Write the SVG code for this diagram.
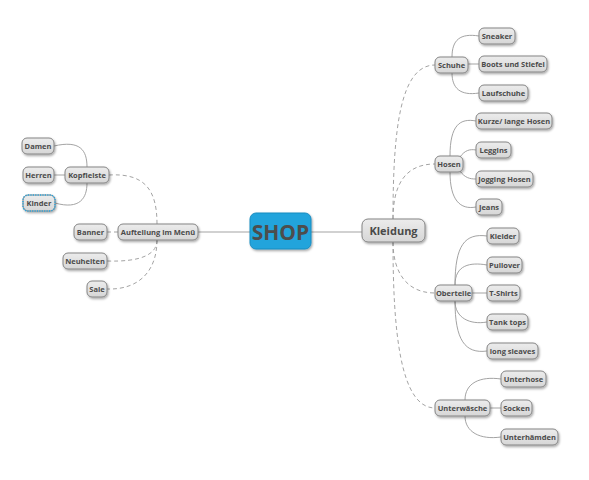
<svg xmlns="http://www.w3.org/2000/svg" width="589" height="480" viewBox="0 0 589 480">
<defs>
<linearGradient id="g" x1="0" y1="0" x2="0" y2="1"><stop offset="0" stop-color="#ececec"/><stop offset="1" stop-color="#d6d6d6"/></linearGradient>
<filter id="sh" x="-20%" y="-30%" width="150%" height="180%"><feDropShadow dx="1" dy="1.5" stdDeviation="0.8" flood-color="#000" flood-opacity="0.35"/></filter>
</defs>
<style>
.n rect{fill:url(#g);stroke:#858585;stroke-width:1;filter:url(#sh)}
.n text{font-family:"Open Sans","Noto Sans",sans-serif;font-weight:bold;font-size:7.5px;fill:#4a4a4a;text-anchor:middle;dominant-baseline:central}
.c path{fill:none;stroke:#999;stroke-width:0.9}
.c .d{stroke-dasharray:4 3}
</style>
<rect width="589" height="480" fill="#fff"/>
<g class="c" id="connectors">
<path d="M198,232 H250"/>
<path d="M311,232 H362"/>
<path class="d" d="M107,232 H118"/>
<path class="d" d="M157,224 C157,190 145,173 109,175"/>
<path class="d" d="M157,240 C157,255 140,262 107,261"/>
<path class="d" d="M157,240 C157,270 140,290 107,289"/>
<path d="M54,146 C80,140 87,150 87,167"/>
<path d="M54,175 H65"/>
<path d="M55,203 C80,210 87,198 87,183"/>
<path class="d" d="M393,219 C393,130 400,65 435,65"/>
<path class="d" d="M393,219 C393,185 405,164 435,164"/>
<path class="d" d="M393,242 C393,270 405,293 435,293"/>
<path class="d" d="M393,242 C393,330 400,408 435,408"/>
<path d="M452,57 C452,40 460,33 479,36"/>
<path d="M468,64 H479"/>
<path d="M452,73 C452,88 460,96 479,93"/>
<path d="M450,156 C450,125 460,118 476,121"/>
<path d="M460,157 C465,150 470,149 476,150"/>
<path d="M460,171 C465,178 470,179 476,179"/>
<path d="M450,172 C450,200 460,210 476,207"/>
<path d="M455,285 C455,245 465,233 487,236"/>
<path d="M455,285 C455,265 470,262 487,265"/>
<path d="M472,293 H487"/>
<path d="M455,301 C455,318 470,325 487,322"/>
<path d="M455,301 C455,340 465,354 487,351"/>
<path d="M465,400 C465,383 480,376 501,379"/>
<path d="M490,408 H501"/>
<path d="M465,416 C465,432 480,440 501,437"/>
</g>
<g class="n" id="n-damen"><rect x="22" y="138" width="32" height="16" rx="5"/><text x="38" y="146">Damen</text></g>
<g class="n" id="n-herren"><rect x="23" y="167" width="31" height="16" rx="5"/><text x="38.5" y="175">Herren</text></g>
<g class="n" id="n-kinder"><rect x="23" y="195" width="32" height="16" rx="5"/><rect x="23" y="195" width="32" height="16" rx="5" style="fill:none;filter:none;stroke:#2aa5dd;stroke-width:1.5;stroke-dasharray:1.2 1.2"/><text x="39" y="203">Kinder</text></g>
<g class="n" id="n-kopfleiste"><rect x="65" y="167" width="44" height="16" rx="5"/><text x="87" y="175">Kopfleiste</text></g>
<g class="n" id="n-banner"><rect x="74" y="224" width="33" height="16" rx="5"/><text x="90.5" y="232">Banner</text></g>
<g class="n" id="n-auftellung"><rect x="118" y="224" width="80" height="16" rx="5"/><text x="158" y="232">Auftellung im Menü</text></g>
<g class="n" id="n-neuheiten"><rect x="63" y="253" width="44" height="16" rx="5"/><text x="85" y="261">Neuheiten</text></g>
<g class="n" id="n-sale"><rect x="87" y="281" width="20" height="16" rx="5"/><text x="97" y="289">Sale</text></g>
<g class="n" id="n-shop"><rect x="250" y="213" width="61" height="36" rx="6" style="fill:#22a4dc;stroke:#1a8cc0"/><text x="280.5" y="232" style="font-size:21px;fill:#4d4d4d">SHOP</text></g>
<g class="n" id="n-kleidung"><rect x="362" y="219" width="63" height="23" rx="6"/><text x="393.5" y="230.5" style="font-size:11px">Kleidung</text></g>
<g class="n" id="n-schuhe"><rect x="435" y="57" width="33" height="16" rx="5"/><text x="451.5" y="65">Schuhe</text></g>
<g class="n" id="n-sneaker"><rect x="479" y="28" width="36" height="16" rx="5"/><text x="497" y="36">Sneaker</text></g>
<g class="n" id="n-boots"><rect x="479" y="56" width="68" height="16" rx="5"/><text x="513" y="64">Boots und Stiefel</text></g>
<g class="n" id="n-laufschuhe"><rect x="479" y="85" width="49" height="16" rx="5"/><text x="503.5" y="93">Laufschuhe</text></g>
<g class="n" id="n-kurze"><rect x="476" y="113" width="76" height="16" rx="5"/><text x="514" y="121">Kurze/ lange Hosen</text></g>
<g class="n" id="n-leggins"><rect x="476" y="142" width="35" height="16" rx="5"/><text x="493.5" y="150">Leggins</text></g>
<g class="n" id="n-hosen"><rect x="435" y="156" width="28" height="16" rx="5"/><text x="449" y="164">Hosen</text></g>
<g class="n" id="n-jogging"><rect x="476" y="171" width="57" height="16" rx="5"/><text x="504.5" y="179">Jogging Hosen</text></g>
<g class="n" id="n-jeans"><rect x="476" y="199" width="26" height="16" rx="5"/><text x="489" y="207">Jeans</text></g>
<g class="n" id="n-kleider"><rect x="487" y="228" width="32" height="16" rx="5"/><text x="503" y="236">Kleider</text></g>
<g class="n" id="n-pullover"><rect x="487" y="257" width="35" height="16" rx="5"/><text x="504.5" y="265">Pullover</text></g>
<g class="n" id="n-obertelle"><rect x="435" y="285" width="37" height="16" rx="5"/><text x="453.5" y="293">Obertelle</text></g>
<g class="n" id="n-tshirts"><rect x="487" y="285" width="33" height="16" rx="5"/><text x="503.5" y="293">T-Shirts</text></g>
<g class="n" id="n-tanktops"><rect x="487" y="314" width="41" height="16" rx="5"/><text x="507.5" y="322">Tank tops</text></g>
<g class="n" id="n-longsleaves"><rect x="487" y="343" width="51" height="16" rx="5"/><text x="512.5" y="351">long sleaves</text></g>
<g class="n" id="n-unterhose"><rect x="501" y="371" width="45" height="16" rx="5"/><text x="523.5" y="379">Unterhose</text></g>
<g class="n" id="n-unterwaesche"><rect x="435" y="400" width="55" height="16" rx="5"/><text x="462.5" y="408">Unterwäsche</text></g>
<g class="n" id="n-socken"><rect x="501" y="400" width="31" height="16" rx="5"/><text x="516.5" y="408">Socken</text></g>
<g class="n" id="n-unterhaemden"><rect x="501" y="429" width="57" height="16" rx="5"/><text x="529.5" y="437">Unterhämden</text></g>
</svg>
